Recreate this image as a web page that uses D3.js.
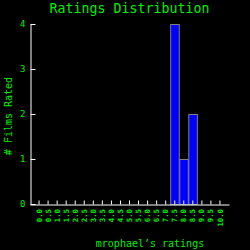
<!DOCTYPE html>
<html>
<head>
<meta charset="utf-8">
<script src="https://cdn.jsdelivr.net/npm/d3@7"></script>
<style>
  html, body { margin: 0; padding: 0; background: #000; }
  svg { display: block; }
</style>
</head>
<body>
<div id="chart"></div>
<script>
// rating buckets and how many films fell in each
const ratings = ["0.0", "0.5", "1.0", "1.5", "2.0", "2.5", "3.0", "3.5", "4.0", "4.5",
  "5.0", "5.5", "6.0", "6.5", "7.0", "7.5", "8.0", "8.5", "9.0", "9.5", "10.0"];
const filmCounts = [0, 0, 0, 0, 0, 0, 0, 0, 0, 0, 0, 0, 0, 0, 0, 4, 1, 2, 0, 0, 0];
const countTicks = [0, 1, 2, 3, 4];

const width = 250, height = 250;
const green = "#00ee00";
const font = "DejaVu Sans Mono, monospace";

const svg = d3.select("#chart").append("svg")
    .attr("width", width)
    .attr("height", height)
    .style("background", "#000");

const x = d3.scaleBand()
    .domain(ratings)
    .range([30, 229])
    .paddingOuter(0.5)
    .paddingInner(0);

const y = d3.scaleLinear()
    .domain([0, 4])
    .range([204, 24]);

const data = ratings.map((r, i) => ({ rating: r, count: filmCounts[i] }));

// bars
svg.append("g")
    .selectAll("rect")
    .data(data.filter(d => d.count > 0))
    .enter()
    .append("rect")
    .attr("x", d => x(d.rating) + 0.5)
    .attr("y", d => y(d.count) + 0.5)
    .attr("width", x.bandwidth() - 0.5)
    .attr("height", d => y(0) - y(d.count))
    .attr("fill", "#0000ff")
    .attr("stroke", "#808080")
    .attr("stroke-width", 1);

// x axis
const xAxis = svg.append("g")
    .attr("transform", "translate(0,204.5)")
    .call(d3.axisBottom(x).tickSizeInner(-4).tickSizeOuter(0));

xAxis.selectAll("text")
    .attr("transform", "rotate(-90)")
    .attr("text-anchor", "end")
    .attr("x", -4.5)
    .attr("y", 0)
    .attr("dy", "0.35em")
    .attr("fill", green)
    .style("font-family", font)
    .style("font-weight", "bold")
    .style("font-size", "7.3px");

// y axis
const yAxis = svg.append("g")
    .attr("transform", "translate(30.5,0)")
    .call(d3.axisLeft(y).tickValues(countTicks).tickFormat(d3.format("d"))
        .tickSizeInner(-5).tickSizeOuter(0).tickPadding(5));

yAxis.selectAll("text")
    .attr("fill", green)
    .style("font-family", font)
    .style("font-size", "9px");

svg.selectAll(".domain, .tick line")
    .attr("stroke", "#fff")
    .attr("stroke-width", 1);

// title and labels
svg.append("text")
    .attr("x", 129.5)
    .attr("y", 13)
    .attr("text-anchor", "middle")
    .attr("fill", green)
    .style("font-family", font)
    .style("font-size", "13.3px")
    .text("Ratings Distribution");

svg.append("text")
    .attr("x", 150)
    .attr("y", 247)
    .attr("text-anchor", "middle")
    .attr("fill", green)
    .style("font-family", font)
    .style("font-size", "10px")
    .text("mrophael\u2019s ratings");

svg.append("text")
    .attr("transform", "translate(11.5,116) rotate(-90)")
    .attr("text-anchor", "middle")
    .attr("fill", green)
    .style("font-family", font)
    .style("font-size", "10px")
    .text("# Films Rated");
</script>
</body>
</html>
